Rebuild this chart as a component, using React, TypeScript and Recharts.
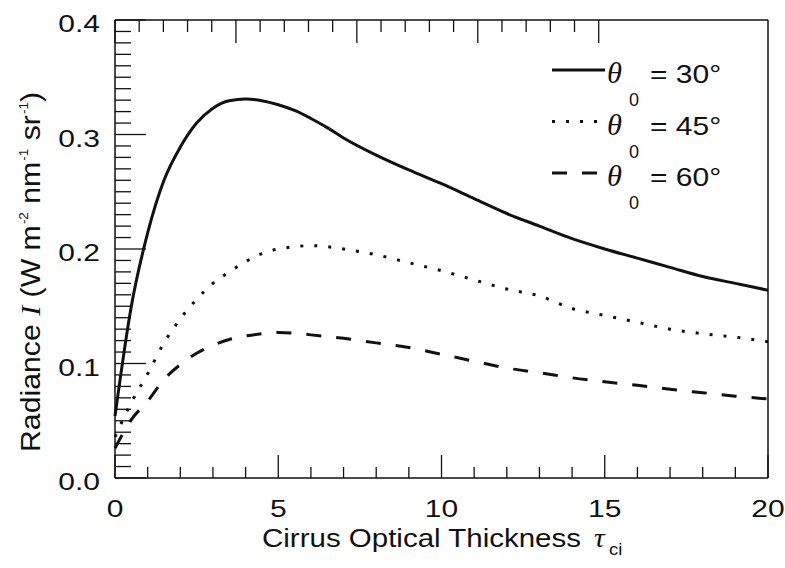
import { LineChart, Line, XAxis, YAxis } from "recharts"

// optical thickness sample points
const TAU = [0, 0.5, 1, 1.5, 2, 2.5, 3, 3.5, 4, 4.5, 5, 5.5, 6, 6.5, 7, 8, 9, 10, 11, 12, 13, 14, 15, 16, 17, 18, 19, 20]

// radiance for solar zenith angles 30, 45, 60 deg
const I_30 = [0.054, 0.15, 0.214, 0.26, 0.289, 0.31, 0.323, 0.3295, 0.331, 0.3295, 0.326, 0.321, 0.314, 0.306, 0.297, 0.282, 0.269, 0.257, 0.244, 0.231, 0.22, 0.209, 0.2, 0.192, 0.184, 0.176, 0.17, 0.164]
const I_45 = [0.036, 0.066, 0.091, 0.118, 0.139, 0.156, 0.17, 0.18, 0.189, 0.196, 0.2, 0.202, 0.203, 0.202, 0.2, 0.195, 0.188, 0.181, 0.173, 0.165, 0.159, 0.148, 0.142, 0.136, 0.13, 0.126, 0.123, 0.119]
const I_60 = [0.026, 0.051, 0.067, 0.086, 0.099, 0.109, 0.116, 0.121, 0.124, 0.126, 0.127, 0.1265, 0.125, 0.1235, 0.122, 0.118, 0.114, 0.108, 0.102, 0.096, 0.092, 0.0875, 0.084, 0.081, 0.0775, 0.0745, 0.0715, 0.069]

const ANGLES = ["30°", "45°", "60°"]
const X_MAJOR = [0, 5, 10, 15, 20]
const Y_MAJOR = [0, 0.1, 0.2, 0.3, 0.4]

const X_TICKS = Array.from({ length: 21 }, (_, i) => i)
const Y_TICKS = Array.from({ length: 41 }, (_, i) => i / 100)

const data = TAU.map((tau, i) => ({ tau, a30: I_30[i], a45: I_45[i], a60: I_60[i] }))

const INK = "#111"
const SANS = "'Liberation Sans', Arial, Helvetica, sans-serif"
const SERIF = "'Liberation Serif', 'Times New Roman', serif"

const DASHES = [undefined, "3 11", "15 15"]
const KEYS = ["a30", "a45", "a60"]

function Stretch({ x, y, sx = 1.25, size = 24, anchor = "start", family = SANS, italic = false, rotate = 0, children }: any) {
  const rot = rotate ? ` rotate(${rotate})` : ""
  return (
    <text
      transform={`translate(${x},${y})${rot} scale(${sx},1)`}
      fontSize={size}
      fontFamily={family}
      fontStyle={italic ? "italic" : "normal"}
      textAnchor={anchor}
      fill={INK}
    >
      {children}
    </text>
  )
}

const isMajor = (list: number[], v: number) => list.some((m) => Math.abs(m - v) < 1e-9)

function BottomTick({ x, y, payload }: any) {
  const major = isMajor(X_MAJOR, payload.value)
  return (
    <g>
      <line x1={x} x2={x} y1={y} y2={y - (major ? 23 : 11)} stroke={INK} strokeWidth={1.3} />
      {major && <Stretch x={x} y={y + 39} anchor="middle">{String(payload.value)}</Stretch>}
    </g>
  )
}

function TopTick({ x, y, payload }: any) {
  const major = isMajor(X_MAJOR, payload.value)
  return <line x1={x} x2={x} y1={y} y2={y + (major ? 23 : 12)} stroke={INK} strokeWidth={1.3} />
}

function LeftTick({ x, y, payload }: any) {
  const major = isMajor(Y_MAJOR, payload.value)
  return (
    <g>
      <line x1={x} x2={x + (major ? 31 : 16)} y1={y} y2={y} stroke={INK} strokeWidth={1.3} />
      {major && <Stretch x={x - 15} y={y + 12} anchor="end">{payload.value.toFixed(1)}</Stretch>}
    </g>
  )
}

function RightTick({ x, y, payload }: any) {
  const major = isMajor(Y_MAJOR, payload.value)
  return <line x1={x} x2={x - (major ? 33 : 16)} y1={y} y2={y} stroke={INK} strokeWidth={1.3} />
}

function XTitle() {
  return (
    <g>
      <Stretch x={262} y={547} size={25} sx={1.18}>Cirrus Optical Thickness</Stretch>
      <Stretch x={594} y={547} size={27} sx={1.1} family={SERIF} italic>τ</Stretch>
      <Stretch x={609} y={555} size={16} sx={1.15}>ci</Stretch>
    </g>
  )
}

function YTitle() {
  return (
    <Stretch x={40} y={452} size={27} sx={1.12} rotate={-90}>
      <tspan>Radiance </tspan>
      <tspan fontFamily={SERIF} fontStyle="italic">I</tspan>
      <tspan> (W m</tspan>
      <tspan fontSize={12} dx={1} dy={-12}>-2</tspan>
      <tspan dy={12}> nm</tspan>
      <tspan fontSize={12} dx={1} dy={-12}>-1</tspan>
      <tspan dy={12}> sr</tspan>
      <tspan fontSize={12} dx={1} dy={-12}>-1</tspan>
      <tspan dy={12}>)</tspan>
    </Stretch>
  )
}

function LegendLayer() {
  return (
    <svg width={785} height={568} style={{ position: "absolute", left: 0, top: 0, pointerEvents: "none" }}>
      {ANGLES.map((a, i) => {
        const cy = 70 + i * 51.5
        return (
          <g key={a}>
            <line x1={552} x2={605} y1={cy} y2={cy} stroke={INK} strokeWidth={3} strokeDasharray={DASHES[i]} />
            <Stretch x={607} y={cy + 13} size={29} sx={1.05} family={SERIF} italic>θ</Stretch>
            <Stretch x={629} y={cy + 36} size={18} sx={1.0}>0</Stretch>
            <Stretch x={650} y={cy + 13} size={25} sx={1.2}>= {a}</Stretch>
          </g>
        )
      })}
    </svg>
  )
}

export default function App() {
  const axisLine = { stroke: INK, strokeWidth: 1.5 }
  return (
    <div style={{ position: "absolute", left: 0, top: 0, width: 785, height: 568, background: "#fff" }}>
      <LineChart width={785} height={568} data={data} margin={{ top: 10, right: 7, bottom: 30, left: 55 }}>
        <XAxis
          dataKey="tau"
          type="number"
          domain={[0, 20]}
          ticks={X_TICKS}
          interval={0}
          tickSize={0}
          tickMargin={0}
          tickLine={false}
          axisLine={axisLine}
          tick={(p: any) => <BottomTick {...p} />}
          height={60}
          label={<XTitle />}
        />
        <XAxis
          xAxisId="top"
          orientation="top"
          type="number"
          domain={[0, 20]}
          ticks={X_TICKS}
          interval={0}
          tickSize={0}
          tickMargin={0}
          tickLine={false}
          axisLine={axisLine}
          tick={(p: any) => <TopTick {...p} />}
          height={10}
        />
        <YAxis
          type="number"
          domain={[0, 0.4]}
          ticks={Y_TICKS}
          interval={0}
          tickSize={0}
          tickMargin={0}
          tickLine={false}
          axisLine={axisLine}
          tick={(p: any) => <LeftTick {...p} />}
          width={60}
          label={<YTitle />}
        />
        <YAxis
          yAxisId="right"
          orientation="right"
          type="number"
          domain={[0, 0.4]}
          ticks={Y_TICKS}
          interval={0}
          tickSize={0}
          tickMargin={0}
          tickLine={false}
          axisLine={axisLine}
          tick={(p: any) => <RightTick {...p} />}
          width={10}
        />
        {KEYS.map((k, i) => (
          <Line
            key={k}
            dataKey={k}
            type="monotone"
            stroke={INK}
            strokeWidth={3}
            strokeDasharray={DASHES[i]}
            dot={false}
            activeDot={false}
            isAnimationActive={false}
          />
        ))}
      </LineChart>
      <LegendLayer />
    </div>
  )
}
